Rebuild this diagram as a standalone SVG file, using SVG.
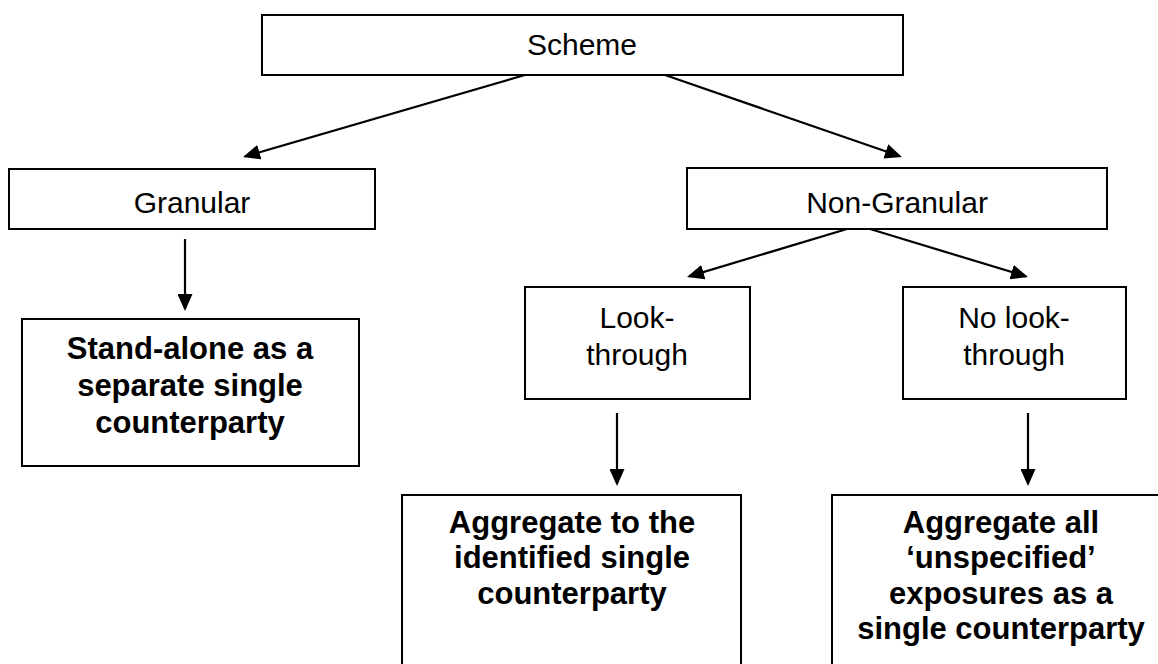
<svg xmlns="http://www.w3.org/2000/svg" width="1158" height="664" viewBox="0 0 1158 664">
<style>
  .box { fill: #ffffff; stroke: #000000; stroke-width: 2; }
  .t { font-family: "Liberation Sans", Arial, sans-serif; font-size: 30px; fill: #000; text-anchor: middle; }
  .b { font-family: "Liberation Sans", Arial, sans-serif; font-size: 31px; font-weight: bold; fill: #000; text-anchor: middle; }
  .c { stroke: #000; stroke-width: 2.2; fill: none; marker-end: url(#ah); }
</style>
<defs>
  <marker id="ah" markerUnits="userSpaceOnUse" markerWidth="17" markerHeight="15" viewBox="0 0 17 15" refX="15" refY="7.5" orient="auto">
    <path d="M0,0 L17,7.5 L0,15 z" fill="#000"/>
  </marker>
</defs>
<rect width="1158" height="664" fill="#ffffff"/>
<g id="connectors">
  <line class="c" x1="525" y1="75" x2="245" y2="156.4"/>
  <line class="c" x1="665" y1="75" x2="900" y2="156.3"/>
  <line class="c" x1="185" y1="239" x2="185" y2="309"/>
  <line class="c" x1="847" y1="229" x2="689" y2="276.4"/>
  <line class="c" x1="870" y1="229" x2="1026" y2="276.4"/>
  <line class="c" x1="617" y1="413" x2="617" y2="484"/>
  <line class="c" x1="1028" y1="413" x2="1028" y2="484"/>
</g>
<g id="scheme">
  <rect class="box" x="262" y="15" width="641" height="60"/>
  <text class="t" x="582" y="55">Scheme</text>
</g>
<g id="granular">
  <rect class="box" x="9" y="169" width="366" height="60"/>
  <text class="t" x="192" y="213">Granular</text>
</g>
<g id="non-granular">
  <rect class="box" x="687" y="168" width="420" height="61"/>
  <text class="t" x="897" y="213">Non-Granular</text>
</g>
<g id="look-through">
  <rect class="box" x="525" y="287" width="225" height="112"/>
  <text class="t" x="637" y="328">Look-</text>
  <text class="t" x="637" y="365">through</text>
</g>
<g id="no-look-through">
  <rect class="box" x="903" y="287" width="223" height="112"/>
  <text class="t" x="1014" y="328">No look-</text>
  <text class="t" x="1014" y="365">through</text>
</g>
<g id="stand-alone">
  <rect class="box" x="22" y="319" width="337" height="147"/>
  <text class="b" x="190" y="359">Stand-alone as a</text>
  <text class="b" x="190" y="396">separate single</text>
  <text class="b" x="190" y="433">counterparty</text>
</g>
<g id="aggregate-identified">
  <rect class="box" x="402" y="495" width="339" height="190"/>
  <text class="b" x="572" y="533">Aggregate to the</text>
  <text class="b" x="572" y="568">identified single</text>
  <text class="b" x="572" y="604">counterparty</text>
</g>
<g id="aggregate-unspecified">
  <rect class="box" x="832" y="495" width="340" height="190"/>
  <text class="b" x="1001" y="533">Aggregate all</text>
  <text class="b" x="1001" y="568">‘unspecified’</text>
  <text class="b" x="1001" y="604">exposures as a</text>
  <text class="b" x="1001" y="639">single counterparty</text>
</g>
</svg>
